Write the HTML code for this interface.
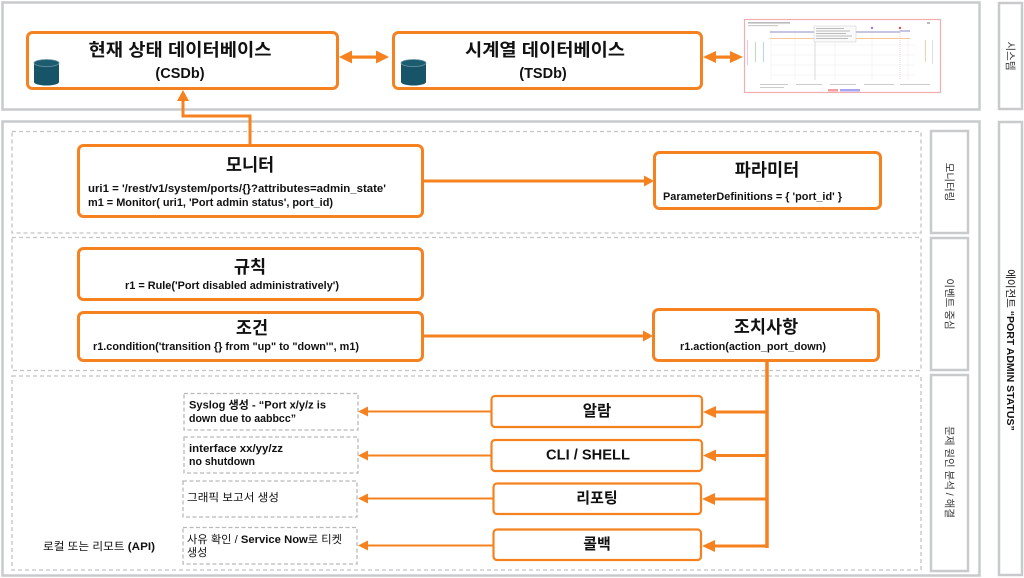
<!DOCTYPE html>
<html>
<head>
<meta charset="utf-8">
<style>
  html,body{margin:0;padding:0;background:#fff;}
  body{width:1024px;height:578px;overflow:hidden;}
  svg{display:block;}
  text{font-family:"Liberation Sans","Noto Sans CJK KR",sans-serif;fill:#111;}
  .t{font-weight:bold;font-size:17.5px;}
  .c{font-weight:bold;font-size:11px;}
  .lab{font-size:10.5px;fill:#333;}
</style>
</head>
<body>
<svg width="1024" height="578" viewBox="0 0 1024 578" xmlns="http://www.w3.org/2000/svg">
  <rect x="0" y="0" width="1024" height="578" fill="#fff"/>

  <!-- Outer gray boxes -->
  <rect x="2.5" y="2.5" width="977" height="107" fill="#fff" stroke="#c8cacc" stroke-width="2.5"/>
  <rect x="2.5" y="121.5" width="977" height="454" fill="#fff" stroke="#c8cacc" stroke-width="2.5"/>
  <rect x="999" y="3" width="23" height="106" fill="#fff" stroke="#c8cacc" stroke-width="2.5"/>
  <rect x="999" y="122" width="23" height="453" fill="#fff" stroke="#c8cacc" stroke-width="2.5"/>

  <!-- Right label boxes -->
  <rect x="931" y="131" width="37" height="102" fill="#fff" stroke="#c8cacc" stroke-width="2.5"/>
  <rect x="931" y="238" width="37" height="132" fill="#fff" stroke="#c8cacc" stroke-width="2.5"/>
  <rect x="931" y="375" width="37" height="196" fill="#fff" stroke="#c8cacc" stroke-width="2.5"/>

  <!-- Dashed sections -->
  <g fill="none" stroke="#c4c4c4" stroke-width="1.3" stroke-dasharray="4 3">
    <rect x="12" y="131.5" width="909" height="101.5"/>
    <rect x="12" y="237.5" width="909" height="133"/>
    <rect x="12" y="376" width="909" height="194"/>
  </g>

  <!-- Rotated labels -->
  <text class="lab" transform="translate(1010,56) rotate(90)" text-anchor="middle" dominant-baseline="central">시스템</text>
  <text class="lab" transform="translate(949,182) rotate(90)" text-anchor="middle" dominant-baseline="central">모니터링</text>
  <text class="lab" transform="translate(949,304) rotate(90)" text-anchor="middle" dominant-baseline="central">이벤트 중심</text>
  <text class="lab" transform="translate(949,472) rotate(90)" text-anchor="middle" dominant-baseline="central">문제 원인 분석 / 해결</text>
  <text transform="translate(1010,350) rotate(90)" text-anchor="middle" dominant-baseline="central" font-size="10.5" fill="#222">에이전트 <tspan font-weight="bold">“PORT ADMIN STATUS”</tspan></text>

  <!-- CSDb box -->
  <rect x="27.5" y="32.5" width="310" height="56" rx="5" fill="#fff" stroke="#f5821f" stroke-width="3"/>
  <text class="t" x="180" y="50" text-anchor="middle" dominant-baseline="central" font-size="16" textLength="183" lengthAdjust="spacingAndGlyphs">현재 상태 데이터베이스</text>
  <text x="180" y="74" text-anchor="middle" dominant-baseline="central" font-weight="bold" font-size="14.5">(CSDb)</text>
  <g>
    <path d="M34,63 v19 a12.5,3.5 0 0 0 25,0 v-19 a12.5,3.5 0 0 0 -25,0 z" fill="#175467"/>
    <ellipse cx="46.5" cy="63" rx="12.5" ry="3.5" fill="#1b5c70" stroke="#6f98a6" stroke-width="0.8"/>
  </g>

  <!-- TSDb box -->
  <rect x="393.5" y="32.5" width="308" height="56" rx="5" fill="#fff" stroke="#f5821f" stroke-width="3"/>
  <text class="t" x="545" y="50" text-anchor="middle" dominant-baseline="central" font-size="16.5" textLength="160" lengthAdjust="spacingAndGlyphs">시계열 데이터베이스</text>
  <text x="543" y="74" text-anchor="middle" dominant-baseline="central" font-weight="bold" font-size="14.5">(TSDb)</text>
  <g>
    <path d="M401,63 v19 a12.5,3.5 0 0 0 25,0 v-19 a12.5,3.5 0 0 0 -25,0 z" fill="#175467"/>
    <ellipse cx="413.5" cy="63" rx="12.5" ry="3.5" fill="#1b5c70" stroke="#6f98a6" stroke-width="0.8"/>
  </g>

  <!-- Double arrows top -->
  <g fill="#f5821f" stroke="none">
    <rect x="348" y="55.5" width="32" height="3.2"/>
    <polygon points="339,57 352,50.5 352,63.5"/>
    <polygon points="389,57 376,50.5 376,63.5"/>
    <rect x="713" y="55.5" width="20" height="3.2"/>
    <polygon points="703,57 716,51 716,63"/>
    <polygon points="743,57 730,51 730,63"/>
  </g>

  <!-- Chart thumbnail -->
  <g>
    <rect x="744.5" y="19.5" width="196" height="73" fill="#fff" stroke="#f2aeae" stroke-width="1.2"/>
    <rect x="748" y="22" width="42" height="1.6" fill="#bbb"/>
    <rect x="748" y="25" width="30" height="1.2" fill="#ccc"/>
    <rect x="927" y="22" width="3" height="2" fill="#bbb"/>
    <g stroke="#eee" stroke-width="0.6">
      <line x1="771" y1="30" x2="771" y2="80"/>
      <line x1="795" y1="30" x2="795" y2="80"/>
      <line x1="835" y1="30" x2="835" y2="80"/>
      <line x1="872" y1="30" x2="872" y2="80"/>
      <line x1="908" y1="30" x2="908" y2="80"/>
      <line x1="770" y1="45" x2="915" y2="45"/>
      <line x1="770" y1="55" x2="915" y2="55"/>
      <line x1="770" y1="65" x2="915" y2="65"/>
      <line x1="770" y1="75" x2="915" y2="75"/>
    </g>
    <line x1="815" y1="28" x2="815" y2="80" stroke="#ccc" stroke-width="0.7"/>
    <line x1="900" y1="28" x2="900" y2="80" stroke="#f2b0b0" stroke-width="0.6" stroke-dasharray="1 1"/>
    <line x1="770" y1="32" x2="900" y2="32" stroke="#8c8cc4" stroke-width="1"/>
    <line x1="900" y1="31" x2="910" y2="31" stroke="#8c8cc4" stroke-width="1"/>
    <line x1="770" y1="38.5" x2="910" y2="38.5" stroke="#f8c596" stroke-width="1"/>
    <rect x="814" y="26" width="42" height="16" fill="#fafafa" stroke="#ccc" stroke-width="0.5"/>
    <g fill="#bbb">
      <rect x="816" y="28" width="28" height="1"/>
      <rect x="816" y="30.5" width="34" height="1"/>
      <rect x="816" y="33" width="30" height="1"/>
      <rect x="816" y="35.5" width="36" height="1"/>
      <rect x="816" y="38" width="32" height="1"/>
    </g>
    <circle cx="872" cy="28" r="1.2" fill="#a07ac8"/>
    <circle cx="900" cy="28" r="1.2" fill="#e05050"/>
    <rect x="747" y="40" width="1" height="25" fill="#f2c8e0"/>
    <rect x="755" y="42" width="1" height="20" fill="#b8e0b8"/>
    <rect x="763" y="42" width="1" height="20" fill="#b8d4f0"/>
    <rect x="925" y="40" width="1" height="22" fill="#f8d0b0"/>
    <rect x="932" y="40" width="1" height="24" fill="#ddd"/>
    <g fill="#ccc">
      <rect x="760" y="84" width="28" height="1"/>
      <rect x="796" y="84" width="26" height="1"/>
      <rect x="830" y="84" width="26" height="1"/>
      <rect x="864" y="84" width="30" height="1"/>
      <rect x="900" y="84" width="30" height="1"/>
      <rect x="760" y="87" width="24" height="1"/>
    </g>
    <rect x="828" y="89" width="10" height="2.5" fill="#f2a0a0"/>
    <rect x="840" y="89" width="20" height="2.5" fill="#a8a8f0"/>
  </g>

  <!-- Monitor -> CSDb connector -->
  <polyline points="250,146 250,116 183,116 183,99" fill="none" stroke="#f5821f" stroke-width="3"/>
  <polygon points="183,90 177,101 189,101" fill="#f5821f"/>

  <!-- Monitor box -->
  <rect x="78.5" y="145.5" width="344" height="71" rx="5" fill="#fff" stroke="#f5821f" stroke-width="3"/>
  <text class="t" x="250" y="165" text-anchor="middle" dominant-baseline="central">모니터</text>
  <text class="c" x="88" y="189" dominant-baseline="central" textLength="298" lengthAdjust="spacingAndGlyphs">uri1 = '/rest/v1/system/ports/{}?attributes=admin_state'</text>
  <text class="c" x="88" y="203" dominant-baseline="central" textLength="245" lengthAdjust="spacingAndGlyphs">m1 = Monitor( uri1, 'Port admin status', port_id)</text>

  <!-- Parameter box -->
  <rect x="654.5" y="152.5" width="226" height="56" rx="5" fill="#fff" stroke="#f5821f" stroke-width="3"/>
  <text class="t" x="767" y="170" text-anchor="middle" dominant-baseline="central">파라미터</text>
  <text class="c" x="663" y="197" dominant-baseline="central" textLength="179" lengthAdjust="spacingAndGlyphs">ParameterDefinitions = { 'port_id' }</text>

  <!-- Monitor -> Param arrow -->
  <line x1="424" y1="181" x2="646" y2="181" stroke="#f5821f" stroke-width="3"/>
  <polygon points="654,181 644,175.5 644,186.5" fill="#f5821f"/>

  <!-- Rule box -->
  <rect x="78.5" y="248.5" width="344" height="51" rx="5" fill="#fff" stroke="#f5821f" stroke-width="3"/>
  <text class="t" x="250" y="267" text-anchor="middle" dominant-baseline="central">규칙</text>
  <text class="c" x="125" y="286" dominant-baseline="central" textLength="214" lengthAdjust="spacingAndGlyphs">r1 = Rule('Port disabled administratively')</text>

  <!-- Condition box -->
  <rect x="78.5" y="312.5" width="344" height="48" rx="5" fill="#fff" stroke="#f5821f" stroke-width="3"/>
  <text class="t" x="252" y="328" text-anchor="middle" dominant-baseline="central">조건</text>
  <text class="c" x="93" y="347" dominant-baseline="central" textLength="266" lengthAdjust="spacingAndGlyphs">r1.condition('transition {} from "up" to "down'", m1)</text>

  <!-- Action box -->
  <rect x="653.5" y="309.5" width="225" height="51" rx="5" fill="#fff" stroke="#f5821f" stroke-width="3"/>
  <text class="t" x="766" y="327" text-anchor="middle" dominant-baseline="central">조치사항</text>
  <text class="c" x="680" y="347" dominant-baseline="central" textLength="146" lengthAdjust="spacingAndGlyphs">r1.action(action_port_down)</text>

  <!-- Condition -> Action arrow -->
  <line x1="424" y1="336" x2="645" y2="336" stroke="#f5821f" stroke-width="3"/>
  <polygon points="653,336 643,330.5 643,341.5" fill="#f5821f"/>

  <!-- Trunk and branches -->
  <g stroke="#f5821f" fill="none">
    <line x1="767" y1="361" x2="767" y2="548" stroke-width="3.5"/>
    <line x1="714" y1="412" x2="767" y2="412" stroke-width="3"/>
    <line x1="714" y1="455.5" x2="767" y2="455.5" stroke-width="3"/>
    <line x1="714" y1="499" x2="767" y2="499" stroke-width="3"/>
    <line x1="714" y1="546" x2="768.5" y2="546" stroke-width="3"/>
  </g>
  <g fill="#f5821f">
    <polygon points="703,412 716,406 716,418"/>
    <polygon points="703,455.5 716,449.5 716,461.5"/>
    <polygon points="702,499 715,493 715,505"/>
    <polygon points="702,546 715,540 715,552"/>
  </g>

  <!-- Orange action boxes -->
  <g fill="#fff" stroke="#f5821f" stroke-width="2.2">
    <rect x="491.5" y="396" width="210.5" height="31" rx="3.5"/>
    <rect x="491.5" y="440" width="210.5" height="31" rx="3.5"/>
    <rect x="493.5" y="483.5" width="207.5" height="30.5" rx="3.5"/>
    <rect x="493.5" y="529.5" width="207.5" height="30.5" rx="3.5"/>
  </g>
  <text x="597" y="411.5" text-anchor="middle" dominant-baseline="central" font-weight="bold" font-size="15.5">알람</text>
  <text x="588" y="455.5" text-anchor="middle" dominant-baseline="central" font-weight="bold" font-size="14.5" textLength="84" lengthAdjust="spacingAndGlyphs">CLI / SHELL</text>
  <text x="597" y="498.5" text-anchor="middle" dominant-baseline="central" font-weight="bold" font-size="15">리포팅</text>
  <text x="597" y="544.5" text-anchor="middle" dominant-baseline="central" font-weight="bold" font-size="15">콜백</text>

  <!-- Left-pointing arrows to dashed boxes -->
  <g stroke="#f5821f" stroke-width="2" fill="none">
    <line x1="366" y1="411.5" x2="492" y2="411.5"/>
    <line x1="366" y1="455.5" x2="492" y2="455.5"/>
    <line x1="366" y1="498.5" x2="494" y2="498.5"/>
    <line x1="366" y1="545.5" x2="494" y2="545.5"/>
  </g>
  <g fill="#f5821f">
    <polygon points="358,411.5 368,406.5 368,416.5"/>
    <polygon points="358,455.5 368,450.5 368,460.5"/>
    <polygon points="358,498.5 368,493.5 368,503.5"/>
    <polygon points="358,545.5 368,540.5 368,550.5"/>
  </g>

  <!-- Dashed result boxes -->
  <g fill="#fff" stroke="#b9b9b9" stroke-width="1.3" stroke-dasharray="4 2.5">
    <rect x="184" y="393.5" width="174" height="36.5"/>
    <rect x="184" y="437" width="174" height="36"/>
    <rect x="183" y="481" width="174" height="36"/>
    <rect x="183" y="527.5" width="174" height="36.5"/>
  </g>
  <text class="c" x="189" y="405.5" dominant-baseline="central" textLength="137" lengthAdjust="spacingAndGlyphs">Syslog 생성 - “Port x/y/z is</text>
  <text class="c" x="189" y="419" dominant-baseline="central" textLength="107" lengthAdjust="spacingAndGlyphs">down due to aabbcc”</text>
  <text class="c" x="189" y="449" dominant-baseline="central" textLength="94" lengthAdjust="spacingAndGlyphs">interface xx/yy/zz</text>
  <text class="c" x="189" y="462" dominant-baseline="central" textLength="66" lengthAdjust="spacingAndGlyphs">no shutdown</text>
  <text x="187" y="498" dominant-baseline="central" font-size="11" textLength="92" lengthAdjust="spacingAndGlyphs">그래픽 보고서 생성</text>
  <text x="187" y="540" dominant-baseline="central" font-size="11" textLength="155" lengthAdjust="spacingAndGlyphs">사유 확인 / <tspan font-weight="bold">Service Now</tspan>로 티켓</text>
  <text x="187" y="553" dominant-baseline="central" font-size="11">생성</text>

  <text x="43" y="547" dominant-baseline="central" font-size="11" textLength="112" lengthAdjust="spacingAndGlyphs">로컬 또는 리모트 <tspan font-weight="bold">(API)</tspan></text>
</svg>
</body>
</html>
